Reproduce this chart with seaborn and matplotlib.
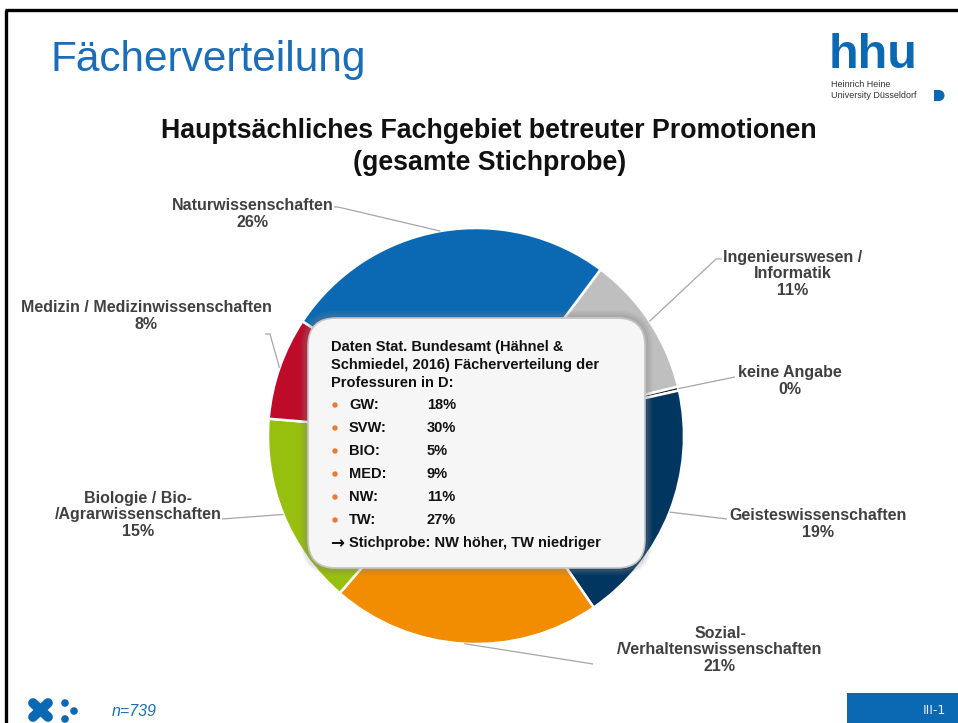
import numpy as np
import matplotlib
matplotlib.use("Agg")
import matplotlib.pyplot as plt
from matplotlib.patches import FancyBboxPatch, Rectangle, Circle, Wedge
import seaborn as sns

# Fachgebiete der betreuten Promotionen, im Uhrzeigersinn ab oben rechts
faecher = ["Ingenieurswesen /\nInformatik", "keine Angabe", "Geisteswissenschaften",
           "Sozial-\n/Verhaltenswissenschaften", "Biologie / Bio-\n/Agrarwissenschaften",
           "Medizin / Medizinwissenschaften", "Naturwissenschaften"]
anteile = [11, 0.3, 19, 21, 15, 8, 26]
farben = ["#bfbfbf", "#1a1a1a", "#003660", "#f28c00", "#97bf0d", "#be0b2a", "#0b69b3"]

# Vergleichswerte Stat. Bundesamt
destatis_faecher = ["GW:", "SVW:", "BIO:", "MED:", "NW:", "TW:"]
destatis_anteile = [18, 30, 5, 9, 11, 27]
n_gesamt = 739

# label layout in pixels: text centre, end of leader line, short horizontal bit
label_xy = [(793, 274), (790, 381), (818, 524), (720, 650), (138, 515), (146, 316), (253, 214)]
leader_end = [(716, 259), (735, 377), (727, 519), (593, 664), (222, 519), (270, 334), (338, 207)]
leader_tail = [6, 0, 0, 0, 0, -5, -4]

sns.set_theme(style="white")
plt.rcParams["font.family"] = ["Liberation Sans", "DejaVu Sans"]

W, H = 958, 723
fig = plt.figure(figsize=(W / 100, H / 100), dpi=100)
fig.patch.set_facecolor("white")

# pie axes, centre (476, 436), radius 208 px
cx, cy, r = 476, 436, 208
pax = fig.add_axes([(cx - r) / W, (H - cy - r) / H, 2 * r / W, 2 * r / H])
wedges, _ = pax.pie(anteile, colors=farben, startangle=53.2, counterclock=False,
                    radius=1, wedgeprops=dict(edgecolor="white", linewidth=1.8))
pax.set_xlim(-1, 1)
pax.set_ylim(-1, 1)
pax.axis("off")

# overlay axes in pixel coordinates
ax = fig.add_axes([0, 0, 1, 1], facecolor="none")
ax.set_xlim(0, W)
ax.set_ylim(H, 0)
ax.axis("off")

to_px = pax.transData + ax.transData.inverted()
lab_col = "#404040"
for w, name, val, (tx, ty), (ex, ey), tail in zip(wedges, faecher, anteile, label_xy, leader_end, leader_tail):
    mid = np.deg2rad((w.theta1 + w.theta2) / 2)
    sx, sy = to_px.transform((np.cos(mid), np.sin(mid)))
    xs, ys = [sx, ex], [sy, ey]
    if tail:
        xs.append(ex + tail)
        ys.append(ey)
    ax.plot(xs, ys, color="#a6a6a6", lw=0.9, solid_capstyle="butt")
    ax.text(tx, ty, f"{name}\n{round(val)}%", ha="center", va="center", fontsize=11.5,
            fontweight="bold", color=lab_col, linespacing=1.1)

# info box with soft shadow
bx0, by0, bx1, by1 = 308, 318, 645, 568
for pad, a in [(6, 0.10), (4, 0.18), (2, 0.30)]:
    ax.add_patch(FancyBboxPatch((bx0 - pad, by0 - pad), bx1 - bx0 + 2 * pad, by1 - by0 + 2 * pad,
                                boxstyle=f"round,pad=0,rounding_size={28 + pad}",
                                facecolor="none", edgecolor="#808080", lw=2, alpha=a))
ax.add_patch(FancyBboxPatch((bx0, by0), bx1 - bx0, by1 - by0,
                            boxstyle="round,pad=0,rounding_size=28",
                            facecolor="#f6f6f6", edgecolor="#c4c4c4", lw=1.2))

kopf = ["Daten Stat. Bundesamt (Hähnel &", "Schmiedel, 2016) Fächerverteilung der", "Professuren in D:"]
for i, zeile in enumerate(kopf):
    ax.text(331, 347 + 18 * i, zeile, ha="left", va="center", fontsize=10.5,
            fontweight="bold", color="#111111")
for i, (fach, wert) in enumerate(zip(destatis_faecher, destatis_anteile)):
    y = 405 + 23 * i
    ax.add_patch(Circle((335, y), 2.0, color="#e8793a"))
    ax.text(349, y, fach, ha="left", va="center", fontsize=10.5, fontweight="bold", color="#111111")
    ax.text(427, y, f"{wert}%", ha="left", va="center", fontsize=10.5, fontweight="bold", color="#111111")
ax.text(330, 543, "\u2192", ha="left", va="center", fontsize=12, fontweight="bold",
        color="#111111", family="DejaVu Sans")
ax.text(349, 543, "Stichprobe: NW höher, TW niedriger", ha="left", va="center",
        fontsize=10.5, fontweight="bold", color="#111111")

# titles
ax.text(489, 131, "Hauptsächliches Fachgebiet betreuter Promotionen",
        ha="center", va="center", fontsize=19.3, fontweight="bold", color="#111111")
ax.text(490, 163, "(gesamte Stichprobe)",
        ha="center", va="center", fontsize=19.3, fontweight="bold", color="#111111")
ax.text(51, 60, "Fächerverteilung", ha="left", va="center", fontsize=30.5, color="#1b6db8")

# hhu logo
blau = "#0b69b3"
ax.text(829, 68.5, "hhu", ha="left", va="baseline", fontsize=35, fontweight="bold", color=blau)
ax.text(831, 84.5, "Heinrich Heine", ha="left", va="center", fontsize=6.5, color="#333333")
ax.text(831, 96, "University Düsseldorf", ha="left", va="center", fontsize=6.5, color="#333333")
ax.add_patch(Rectangle((934, 90), 5, 11, color=blau, lw=0))
ax.add_patch(Wedge((939, 95.5), 5.5, -90, 90, color=blau, lw=0))

# slide frame
ax.plot([5, W], [10, 10], color="black", lw=2.4, solid_capstyle="butt")
ax.plot([6.5, 6.5], [10, H], color="black", lw=2.4, solid_capstyle="butt")

# footer
ax.plot([33, 48], [703, 717], color=blau, lw=7, solid_capstyle="round")
ax.plot([33, 48], [717, 703], color=blau, lw=7, solid_capstyle="round")
for px, py in [(65, 703), (74, 711), (65, 719)]:
    ax.add_patch(Circle((px, py), 3.8, color=blau, lw=0))
ax.text(112, 711, f"n={n_gesamt}", ha="left", va="center", fontsize=11.5, style="italic", color="#1b6db8")
ax.add_patch(Rectangle((847, 693), W - 847, H - 693, color=blau, lw=0))
ax.text(934, 711, "III-1", ha="center", va="center", fontsize=9, color="#e6eef6", family="DejaVu Sans")

fig.savefig("out.png", dpi=100)
